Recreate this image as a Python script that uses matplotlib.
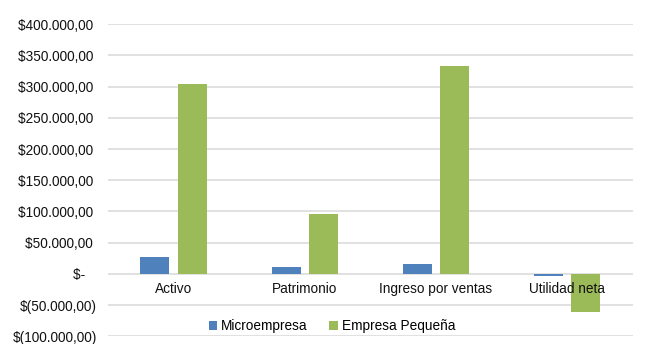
import numpy as np
import matplotlib.pyplot as plt
from matplotlib.ticker import FixedLocator

categories = ['Activo', 'Patrimonio', 'Ingreso por ventas', 'Utilidad neta']
microempresa = [27300, 11400, 16700, -2800]
empresa_pequena = [303300, 96200, 332600, -60100]
series_names = ['Microempresa', 'Empresa Pequeña']

y_ticks = [-100000, -50000, 0, 50000, 100000, 150000, 200000, 250000, 300000, 350000, 400000]
y_tick_labels = ['$(100.000,00)', '$(50.000,00)', '$-   ', '$50.000,00 ', '$100.000,00 ',
                 '$150.000,00 ', '$200.000,00 ', '$250.000,00 ', '$300.000,00 ',
                 '$350.000,00 ', '$400.000,00 ']

plt.rcParams['font.family'] = ['Liberation Sans', 'DejaVu Sans']

fig = plt.figure(figsize=(6.51, 3.44), dpi=100)
ax = fig.add_axes([0.166, 0.022, 0.806, 0.908])

x = np.arange(len(categories))
w = 0.221
off = 0.143
ax.bar(x - off, microempresa, width=w, color='#4F81BD', label=series_names[0], zorder=3)
ax.bar(x + off, empresa_pequena, width=w, color='#9BBB59', label=series_names[1], zorder=3)

ax.set_xlim(-0.5, len(categories) - 0.5)
ax.set_ylim(-100000, 400000)
ax.yaxis.set_major_locator(FixedLocator(y_ticks))
ax.set_yticklabels(y_tick_labels, fontsize=9.8, color='#111111')
ax.grid(axis='y', color='#D9D9D9', linewidth=1.1, zorder=0)
ax.set_axisbelow(True)

for s in ax.spines.values():
    s.set_visible(False)
ax.spines['bottom'].set_position(('data', 0))
ax.set_xticks(x)
ax.set_xticklabels(categories, fontsize=9.8, color='#111111')
ax.tick_params(axis='x', length=0, pad=6)
ax.tick_params(axis='y', length=0, pad=8)
# category labels sit on top of the bars (as in the reference)
ax.xaxis.set_zorder(5)

fig.legend(loc='center', bbox_to_anchor=(0.51, 0.052), ncol=2, frameon=False,
           fontsize=9.8, handlelength=0.6, handleheight=0.6, handletextpad=0.3,
           columnspacing=1.6)

fig.savefig('out.png', dpi=100)
